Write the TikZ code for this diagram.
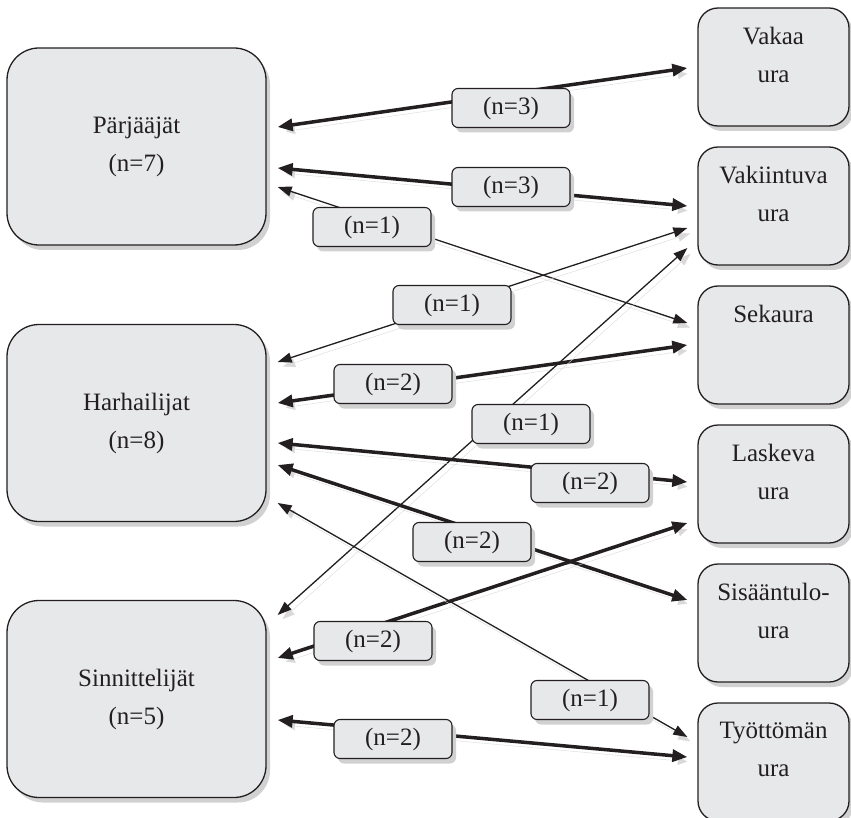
\documentclass[tikz,border=0pt]{standalone}
\usepackage{fontspec}
\setmainfont{Liberation Serif}
\usepackage{tikz}
\usetikzlibrary{arrows.meta, positioning, shadows}
\definecolor{boxgray}{RGB}{231,232,234}
\definecolor{linedark}{RGB}{35,31,32}

\begin{document}
\begin{tikzpicture}[x=1pt, y=-1pt,
    every node/.style={font=\fontsize{25}{38}\selectfont, text=linedark},
    softshadow/.style={drop shadow={shadow xshift=4pt, shadow yshift=-5pt, fill=black!18, opacity=1}},
    lineshadow/.style={preaction={draw=black!15, transform canvas={shift={(4pt,-5pt)}}}},
    tyyppi/.style={draw=linedark, line width=1.3pt, fill=boxgray, rounded corners=32pt,
        minimum width=259pt, minimum height=197pt, align=center, softshadow},
    ura/.style={draw=linedark, line width=1.3pt, fill=boxgray, rounded corners=20pt,
        minimum width=151pt, minimum height=118pt, softshadow,
        label={[anchor=north, yshift=-20pt, inner sep=0pt, align=center]north:{#1}}},
    lkm/.style={draw=linedark, line width=1.1pt, fill=boxgray, rounded corners=6pt,
        minimum width=118pt, minimum height=39pt, inner sep=0pt, softshadow},
    paksu/.style={{Triangle[length=15pt,width=12pt]}-{Triangle[length=15pt,width=12pt]},
        line width=3.5pt, draw=linedark, lineshadow},
    ohut/.style={{Triangle[length=14pt,width=10pt]}-{Triangle[length=14pt,width=10pt]},
        line width=1.3pt, draw=linedark, lineshadow}]
    \useasboundingbox (0,0) rectangle (851,818);

    % ryhmat
    \node[tyyppi] (parj) at (136.5,146.5) {Pärjääjät\\(n=7)};
    \node[tyyppi] (harh) at (136.5,423) {Harhailijat\\(n=8)};
    \node[tyyppi] (sinn) at (136.5,699) {Sinnittelijät\\(n=5)};

    % urat
    \node[ura={Vakaa\\ura}] (vakaa) at (773.5,67) {};
    \node[ura={Vakiintuva\\ura}] (vakiin) at (773.5,206) {};
    \node[ura={Sekaura}] (seka) at (773.5,345) {};
    \node[ura={Laskeva\\ura}] (lask) at (773.5,484) {};
    \node[ura={Sisääntulo-\\ura}] (sisa) at (773.5,623) {};
    \node[ura={Työttömän\\ura}] (tyot) at (773.5,762) {};

    % siirtymat
    \draw[paksu] ([xshift=11pt,yshift=19.5pt]parj.east) -- ([xshift=-10pt,yshift=-1pt]vakaa.west);
    \draw[paksu] ([xshift=11pt,yshift=-21.5pt]parj.east) -- ([xshift=-10pt]vakiin.west);
    \draw[ohut] ([xshift=11pt,yshift=-40.5pt]parj.east) -- ([xshift=-10pt,yshift=22pt]seka.west);
    \draw[ohut] ([xshift=11pt,yshift=61pt]harh.east) -- ([xshift=-10pt,yshift=-22pt]vakiin.west);
    \draw[paksu] ([xshift=11pt,yshift=20pt]harh.east) -- ([xshift=-10pt]seka.west);
    \draw[ohut] ([xshift=11pt,yshift=84pt]sinn.east) -- ([xshift=-10pt,yshift=-42pt]vakiin.west);
    \draw[paksu] ([xshift=11pt,yshift=-20pt]harh.east) -- ([xshift=-10pt,yshift=2pt]lask.west);
    \draw[paksu] ([xshift=11pt,yshift=-42pt]harh.east) -- ([xshift=-10pt,yshift=23pt]sisa.west);
    \draw[paksu] ([xshift=11pt,yshift=41pt]sinn.east) -- ([xshift=-10pt,yshift=-39pt]lask.west);
    \draw[ohut] ([xshift=11pt,yshift=-80pt]harh.east) -- ([xshift=-10pt,yshift=25pt]tyot.west);
    \draw[paksu] ([xshift=11pt,yshift=-21pt]sinn.east) -- ([xshift=-10pt,yshift=5pt]tyot.west);

    % lukumaarat
    \node[lkm] (n1) at (511,108) {(n=3)};
    \node[lkm] (n2) at (511,187) {(n=3)};
    \node[lkm] (n3) at (372,227) {(n=1)};
    \node[lkm] (n4) at (452,305) {(n=1)};
    \node[lkm] (n5) at (393,384) {(n=2)};
    \node[lkm] (n6) at (531,424) {(n=1)};
    \node[lkm] (n7) at (590,483) {(n=2)};
    \node[lkm] (n8) at (472,542) {(n=2)};
    \node[lkm] (n9) at (373,641) {(n=2)};
    \node[lkm] (n10) at (590,700) {(n=1)};
    \node[lkm] (n11) at (393,739) {(n=2)};
\end{tikzpicture}
\end{document}
